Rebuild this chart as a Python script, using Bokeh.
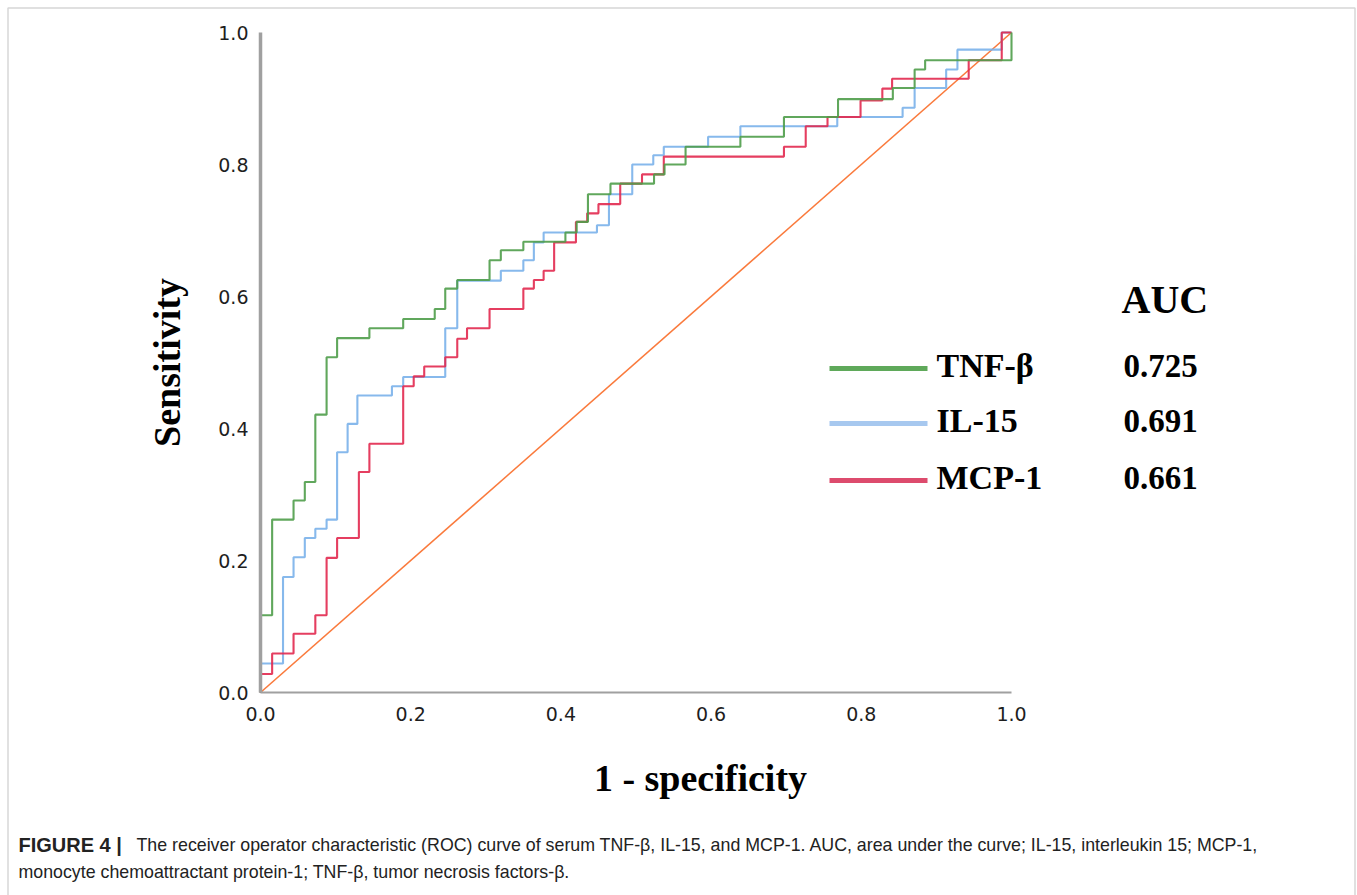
from bokeh.plotting import figure
from bokeh.models import Range1d, FixedTicker, PrintfTickFormatter, Label, BoxAnnotation
from bokeh.embed import file_html
from bokeh.resources import INLINE
from bokeh.core.properties import value

# ---------------- data ----------------
series_names = ["TNF-β", "IL-15", "MCP-1"]
auc_values = ["0.725", "0.691", "0.661"]

tnf_fpr = [0.0, 0.0, 0.0155, 0.044, 0.059, 0.073, 0.088, 0.102, 0.145, 0.190, 0.232,
           0.246, 0.262, 0.305, 0.320, 0.350, 0.406, 0.421, 0.436, 0.466, 0.524, 0.538,
           0.566, 0.639, 0.697, 0.769, 0.842, 0.871, 0.885, 1.0]
tnf_tpr = [0.0, 0.117, 0.262, 0.291, 0.319, 0.421, 0.508, 0.537, 0.552, 0.566, 0.581,
           0.612, 0.625, 0.655, 0.670, 0.683, 0.697, 0.713, 0.755, 0.771, 0.785, 0.800,
           0.827, 0.842, 0.872, 0.899, 0.916, 0.944, 0.958, 1.0]

il15_fpr = [0.0, 0.0, 0.030, 0.044, 0.059, 0.073, 0.088, 0.102, 0.116, 0.129, 0.175,
            0.190, 0.246, 0.262, 0.320, 0.350, 0.364, 0.377, 0.448, 0.464, 0.495, 0.523,
            0.537, 0.596, 0.639, 0.768, 0.855, 0.871, 0.913, 0.928, 0.987, 1.0]
il15_tpr = [0.0, 0.044, 0.175, 0.205, 0.234, 0.248, 0.262, 0.364, 0.407, 0.450, 0.464,
            0.478, 0.552, 0.624, 0.639, 0.655, 0.682, 0.697, 0.708, 0.755, 0.800, 0.814,
            0.827, 0.842, 0.858, 0.872, 0.886, 0.916, 0.944, 0.974, 1.0, 1.0]

mcp1_fpr = [0.0, 0.0, 0.0155, 0.044, 0.073, 0.088, 0.102, 0.131, 0.145, 0.190, 0.204,
            0.218, 0.246, 0.262, 0.275, 0.305, 0.350, 0.364, 0.377, 0.391, 0.420, 0.435,
            0.450, 0.479, 0.508, 0.537, 0.697, 0.726, 0.755, 0.799, 0.828, 0.841, 0.943,
            0.987, 1.0]
mcp1_tpr = [0.0, 0.028, 0.059, 0.089, 0.117, 0.204, 0.234, 0.334, 0.377, 0.464, 0.479,
            0.494, 0.508, 0.536, 0.552, 0.581, 0.612, 0.625, 0.639, 0.682, 0.713, 0.726,
            0.740, 0.771, 0.785, 0.812, 0.827, 0.858, 0.872, 0.897, 0.915, 0.930, 0.958,
            1.0, 1.0]

reference_line = [0.0, 1.0]
axis_ticks = [0.0, 0.2, 0.4, 0.6, 0.8, 1.0]

x_axis_title = "1 - specificity"
y_axis_title = "Sensitivity"
caption_bold = "FIGURE 4 |"
caption_line1 = ("The receiver operator characteristic (ROC) curve of serum TNF-β, IL-15, and MCP-1. "
                 "AUC, area under the curve; IL-15, interleukin 15; MCP-1,")
caption_line2 = "monocyte chemoattractant protein-1; TNF-β, tumor necrosis factors-β."

# ---------------- styles / layout ----------------
curve_colors = ["#4f9d4a", "#7ab1ea", "#e2294f"]
key_colors = ["#5fa95a", "#a7c8ef", "#dd4b6d"]
diag_color = "#fa7a3c"

W, H = 1357, 895
X0_PX, Y0_PX = 260, 692     # pixel of (0, 0)
SX, SY = 751.0, 660.0       # pixels per unit

p = figure(width=W, height=H, output_backend="svg", toolbar_location=None,
           x_range=Range1d(-X0_PX / SX, (W - X0_PX) / SX),
           y_range=Range1d(-(H - Y0_PX) / SY, Y0_PX / SY),
           min_border_left=0, min_border_right=0, min_border_top=0, min_border_bottom=0)
p.outline_line_color = None
p.grid.visible = False
p.background_fill_color = "white"
p.border_fill_color = "white"

# axes
for ax in (p.xaxis[0], p.yaxis[0]):
    ax.fixed_location = 0
    ax.bounds = (0, 1)
    ax.ticker = FixedTicker(ticks=axis_ticks)
    ax.formatter = PrintfTickFormatter(format="%.1f")
    ax.major_tick_line_color = None
    ax.minor_tick_line_color = None
    ax.major_tick_out = 0
    ax.major_tick_in = 0
    ax.minor_tick_out = 0
    ax.major_label_text_font = "DejaVu Sans"
    ax.major_label_text_font_size = "19px"
    ax.major_label_text_color = "#1e1e1e"
    ax.axis_label_text_font = "Liberation Serif"
    ax.axis_label_text_font_style = "bold"
    ax.axis_label_text_font_size = "38px"
    ax.axis_label_text_color = "#000000"
    ax.axis_line_color = "#a0a0a0"

p.xaxis[0].axis_line_width = 2
p.yaxis[0].axis_line_width = 3.5
p.xaxis[0].major_label_standoff = 14
p.yaxis[0].major_label_standoff = 12
p.yaxis[0].axis_label = y_axis_title
p.yaxis[0].axis_label_standoff = 27

# reference diagonal
p.line(reference_line, reference_line, line_color=diag_color, line_width=1.6)

# ROC curves
for fpr, tpr, col in ((il15_fpr, il15_tpr, curve_colors[1]),
                      (mcp1_fpr, mcp1_tpr, curve_colors[2]),
                      (tnf_fpr, tnf_tpr, curve_colors[0])):
    p.step(fpr, tpr, mode="after", line_color=col, line_width=2.1, line_alpha=0.9)


def dx(px):
    return (px - X0_PX) / SX


def dy(py):
    return (Y0_PX - py) / SY


# x-axis title (centred on the whole chart area, as in the original)
p.add_layout(Label(x=dx(700), y=dy(777), text=x_axis_title, text_font="Liberation Serif",
                   text_font_style="bold", text_font_size="38px", text_align="center",
                   text_baseline="middle", text_color="#000000"))

# key (legend) lines + labels + AUC values
key_rows_y = [368, 423, 480]
key_text_y = [365, 420, 477]
p.segment(x0=[dx(829)] * 3, x1=[dx(927)] * 3, y0=[dy(v) for v in key_rows_y],
          y1=[dy(v) for v in key_rows_y], line_color=key_colors, line_width=5)
p.text(x=[dx(936)] * 3, y=[dy(v) for v in key_text_y], text=series_names,
       text_font=value("Liberation Serif"), text_font_style="bold", text_font_size="34px",
       text_baseline="middle", text_align="left", text_color="#000000")
p.text(x=[dx(1123)] * 3, y=[dy(v) for v in key_text_y], text=auc_values,
       text_font=value("Liberation Serif"), text_font_style="bold", text_font_size="33px",
       text_baseline="middle", text_align="left", text_color="#000000")
p.text(x=[dx(1121)], y=[dy(299)], text=["AUC"],
       text_font=value("Liberation Serif"), text_font_style="bold", text_font_size="40px",
       text_baseline="middle", text_align="left", text_color="#000000")


# caption
def lab(text, px, py, size, bold=False):
    return Label(x=dx(px), y=dy(py), text=text, text_font="Liberation Sans",
                 text_font_size=size, text_font_style="bold" if bold else "normal",
                 text_baseline="middle", text_align="left", text_color="#222222")


p.add_layout(lab(caption_bold, 18, 844, "20px", bold=True))
p.add_layout(lab(caption_line1, 136, 844, "17.8px"))
p.add_layout(lab(caption_line2, 18, 871, "17.8px"))

# figure border (open at the bottom)
p.add_layout(BoxAnnotation(left=dx(7.5), right=dx(1354.5), top=dy(7.5), bottom=dy(920),
                           fill_alpha=0, line_color="#7a7a7a", line_width=1.5))

open("out.html", "w").write(file_html(p, INLINE))
